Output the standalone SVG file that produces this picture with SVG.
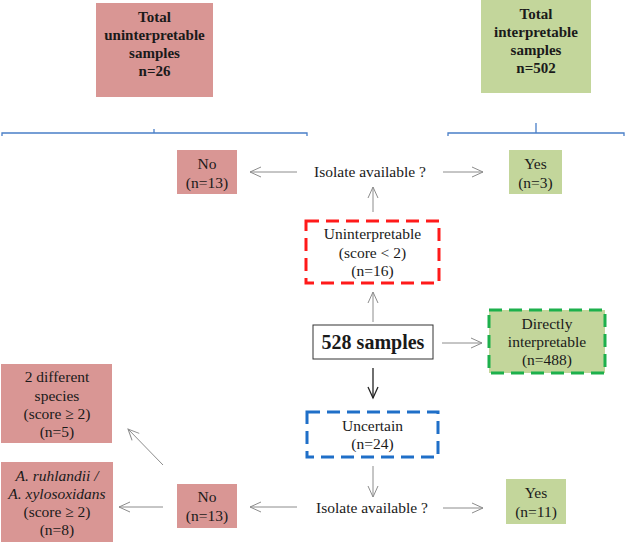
<svg xmlns="http://www.w3.org/2000/svg" width="625" height="543" viewBox="0 0 625 543">
<defs>
<style>
text{font-family:'Liberation Serif','Times New Roman','DejaVu Serif',serif;fill:#1a1a1a;text-anchor:middle}
.t{font-size:15.5px}
.b{font-size:15px;font-weight:bold}
.pink{fill:#d99694}
.green{fill:#c3d69b}
.ar{stroke:#8c8c8c;stroke-width:1;fill:none}
.br{stroke:#4a7fc8;stroke-width:1.3;fill:none}
</style>
<marker id="ah" markerWidth="14" markerHeight="12" refX="12" refY="6" orient="auto" markerUnits="userSpaceOnUse">
<path d="M1,1 L12,6 L1,11" fill="none" stroke="#8c8c8c" stroke-width="1"/>
</marker>
<marker id="ahk" markerWidth="14" markerHeight="12" refX="12" refY="6" orient="auto" markerUnits="userSpaceOnUse">
<path d="M1,1 L12,6 L1,11" fill="none" stroke="#222" stroke-width="1.3"/>
</marker>
</defs>

<g id="total-unint">
<rect class="pink" x="96" y="3" width="117" height="94"/>
<text class="b" x="154.5" y="22">Total</text>
<text class="b" x="154.5" y="40">uninterpretable</text>
<text class="b" x="154.5" y="58">samples</text>
<text class="b" x="154.5" y="76">n=26</text>
</g>
<g id="total-int">
<rect class="green" x="481" y="0" width="110" height="93"/>
<text class="b" x="536" y="19">Total</text>
<text class="b" x="536" y="37">interpretable</text>
<text class="b" x="536" y="55">samples</text>
<text class="b" x="536" y="73">n=502</text>
</g>
<g id="brackets">
<path class="br" d="M2,136 L2,133 L307,133 L307,136 M154,133 L154,129"/>
<path class="br" d="M448,136 L448,133 L624,133 L624,136 M536,133 L536,123"/>
</g>

<g id="no-top">
<rect class="pink" x="177" y="150" width="60" height="44"/>
<text class="t" x="207" y="169">No</text>
<text class="t" x="207" y="188">(n=13)</text>
</g>
<g id="isolate-top">
<text class="t" x="370" y="177">Isolate available ?</text>
</g>
<g id="yes-top">
<rect class="green" x="509" y="150" width="53" height="44"/>
<text class="t" x="535.5" y="169">Yes</text>
<text class="t" x="535.5" y="188">(n=3)</text>
</g>
<g id="uninterpretable">
<rect x="306" y="221" width="133" height="62" fill="none" stroke="#ff1a1a" stroke-width="3" stroke-dasharray="13,7"/>
<text class="t" x="372.5" y="239">Uninterpretable</text>
<text class="t" x="372.5" y="258">(score &lt; 2)</text>
<text class="t" x="372.5" y="276">(n=16)</text>
</g>
<g id="samples">
<rect x="313" y="325" width="120" height="34" fill="#fff" stroke="#333" stroke-width="1"/>
<text x="373" y="349" style="font-size:20px;font-weight:bold">528 samples</text>
</g>
<g id="direct">
<rect class="green" x="489" y="310" width="116" height="63" stroke="#1db04c" stroke-width="3" stroke-dasharray="13,7"/>
<text class="t" x="547" y="329">Directly</text>
<text class="t" x="547" y="347">interpretable</text>
<text class="t" x="547" y="365">(n=488)</text>
</g>
<g id="uncertain">
<rect x="307" y="412" width="131" height="45" fill="none" stroke="#1f6fc8" stroke-width="3" stroke-dasharray="13,7"/>
<text class="t" x="372.5" y="431">Uncertain</text>
<text class="t" x="372.5" y="449">(n=24)</text>
</g>
<g id="isolate-bottom">
<text class="t" x="372" y="513">Isolate available ?</text>
</g>
<g id="yes-bottom">
<rect class="green" x="506" y="479" width="60" height="45"/>
<text class="t" x="536" y="498">Yes</text>
<text class="t" x="536" y="517">(n=11)</text>
</g>
<g id="no-bottom">
<rect class="pink" x="177" y="484" width="60" height="44"/>
<text class="t" x="207" y="502">No</text>
<text class="t" x="207" y="521">(n=13)</text>
</g>
<g id="species">
<rect class="pink" x="1" y="364" width="111" height="79"/>
<text class="t" x="57" y="382">2 different</text>
<text class="t" x="57" y="401">species</text>
<text class="t" x="57" y="419">(score ≥ 2)</text>
<text class="t" x="57" y="437">(n=5)</text>
</g>
<g id="ruhlandii">
<rect class="pink" x="1" y="462" width="112" height="80"/>
<text class="t" x="57" y="481" font-style="italic">A. ruhlandii /</text>
<text class="t" x="57" y="499" font-style="italic">A. xylosoxidans</text>
<text class="t" x="57" y="517">(score ≥ 2)</text>
<text class="t" x="57" y="535">(n=8)</text>
</g>

<g id="connectors">
<line class="ar" x1="297" y1="172" x2="250" y2="172" marker-end="url(#ah)"/>
<line class="ar" x1="443" y1="172" x2="483" y2="172" marker-end="url(#ah)"/>
<line class="ar" x1="373" y1="212" x2="373" y2="187" marker-end="url(#ah)"/>
<line class="ar" x1="373" y1="322" x2="373" y2="292" marker-end="url(#ah)"/>
<line class="ar" x1="442" y1="343" x2="482" y2="343" marker-end="url(#ah)"/>
<line x1="373" y1="368" x2="373" y2="398" stroke="#222" stroke-width="1.3" marker-end="url(#ahk)"/>
<line class="ar" x1="373" y1="466" x2="373" y2="497" marker-end="url(#ah)"/>
<line class="ar" x1="443" y1="508" x2="483" y2="508" marker-end="url(#ah)"/>
<line class="ar" x1="297" y1="507" x2="250" y2="507" marker-end="url(#ah)"/>
<line class="ar" x1="163" y1="507" x2="119" y2="507" marker-end="url(#ah)"/>
<line class="ar" x1="163" y1="465" x2="128" y2="429" marker-end="url(#ah)"/>
</g>
</svg>
